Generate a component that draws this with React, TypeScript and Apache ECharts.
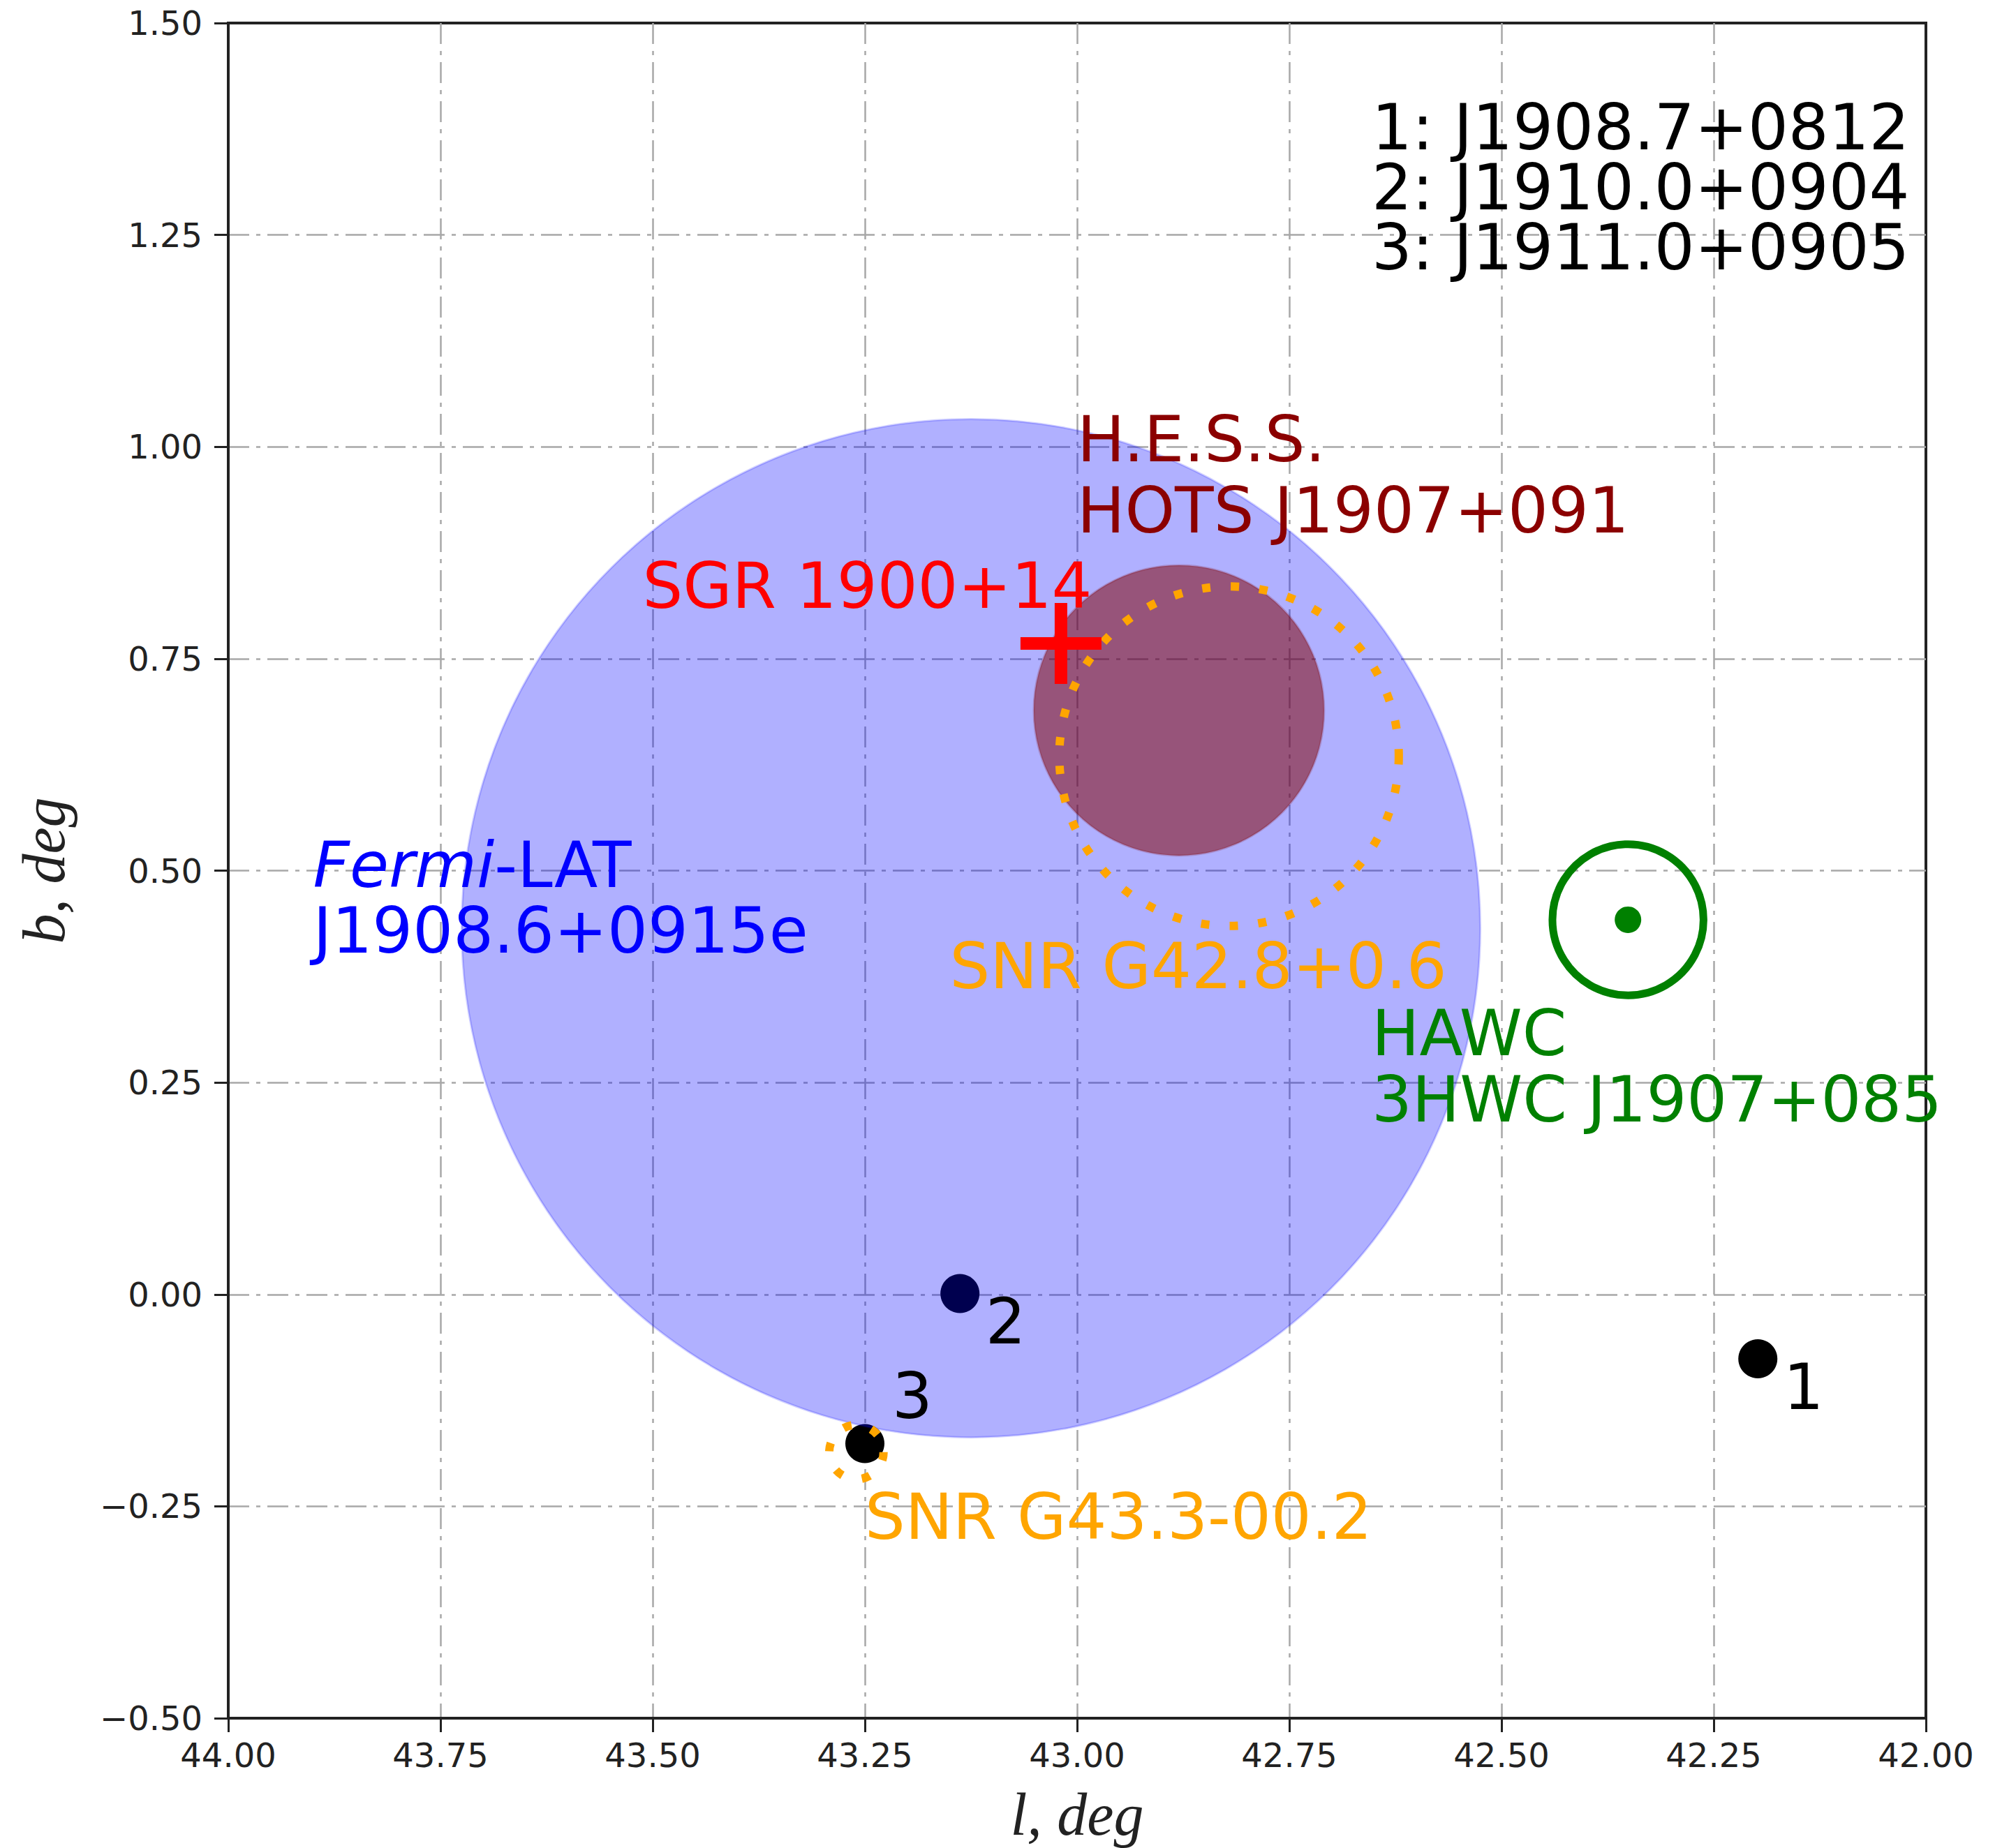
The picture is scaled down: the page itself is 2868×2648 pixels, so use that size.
import React, { useEffect, useRef } from "react";
import * as echarts from "echarts";

const W = 2868;
const H = 2648;

// ---- data (galactic coordinates, degrees) ----
const xMin = 42.0;
const xMax = 44.0;
const yMin = -0.5;
const yMax = 1.5;
const tickStep = 0.25;

// numbered sources 1, 2, 3
const sourceL = [42.198, 43.138, 43.25];
const sourceB = [-0.076, 0.001, -0.176];

// extended regions: [l, b, radius]
const fermiRegion = [[43.125, 0.432, 0.6]];
const hessRegion = [[42.88, 0.689, 0.171]];
const snrRegions = [
  [42.821, 0.635, 0.2],
  [43.26, -0.186, 0.032],
];
const hawcRegion = [[42.351, 0.442, 0.089]];
const hawcCenter = [[42.351, 0.442]];
const sgrPosition = [[43.019, 0.768]];

// source list (top right), one block of three lines
const sourceList = ["1: J1908.7+0812", "2: J1910.0+0904", "3: J1911.0+0905"];

// annotation texts and their anchor positions (left edge, baseline of the middle line) in l, b
const labelTexts = [
  "H.E.S.S.",
  "HOTS J1907+091",
  "SGR 1900+14",
  "{i|Fermi}{n|-LAT}",
  "J1908.6+0915e",
  "SNR G42.8+0.6",
  "HAWC",
  "3HWC J1907+085",
  "1",
  "2",
  "3",
  "SNR G43.3-00.2",
  sourceList.join("\n"),
];
const labelL = [43.0, 43.0, 43.512, 43.9, 43.9, 43.15, 42.653, 42.653, 42.168, 43.108, 43.218, 43.25, 42.653];
const labelB = [0.983, 0.899, 0.81, 0.481, 0.403, 0.3615, 0.2826, 0.2037, -0.135, -0.058, -0.146, -0.288, 1.28];
const labelColors = [
  "#8b0000", "#8b0000", "#ff0000", "#0000ff", "#0000ff", "#ffa500", "#008000", "#008000",
  "#000000", "#000000", "#000000", "#ffa500", "#000000",
];

const FS = 91;
const LH = 86;
const SANS = "'DejaVu Sans', 'Noto Sans', sans-serif";
const SERIF = "'Liberation Serif', 'DejaVu Serif', serif";

function circleRenderer(style: any) {
  return (params: any, api: any) => {
    const c = api.coord([api.value(0), api.value(1)]);
    const e = api.coord([api.value(0) + api.value(2), api.value(1)]);
    const r = Math.abs(e[0] - c[0]);
    return {
      type: "circle",
      shape: { cx: c[0], cy: c[1], r },
      style: { ...style },
      silent: true,
    };
  };
}

function fmt(v: number) {
  return v.toFixed(2).replace("-", "\u2212");
}

export default function App() {
  const ref = useRef<HTMLDivElement>(null);

  useEffect(() => {
    document.body.style.margin = "0";
    if (!ref.current) return;
    const chart = echarts.init(ref.current, undefined, { renderer: "svg", width: W, height: H });

    const axisCommon = {
      type: "value",
      interval: tickStep,
      axisTick: { show: true, inside: false, length: 20, lineStyle: { color: "#222", width: 3 } },
      axisLine: { show: true, onZero: false, lineStyle: { color: "#222", width: 4 } },
      splitLine: {
        show: true,
        showMinLine: false,
        showMaxLine: false,
        lineStyle: { color: "#a8a8a8", width: 2.5, type: [30, 10, 6, 10] },
      },
      nameLocation: "middle",
      nameTextStyle: { fontFamily: SERIF, fontStyle: "italic", fontSize: 86, color: "#222" },
    };

    const option: any = {
      animation: false,
      backgroundColor: "#ffffff",
      grid: {
        left: 327,
        top: 33,
        width: 2432,
        height: 2432,
        show: true,
        borderColor: "#222",
        borderWidth: 4,
        backgroundColor: "transparent",
      },
      xAxis: {
        ...axisCommon,
        min: xMin,
        max: xMax,
        inverse: true,
        name: "l, deg",
        nameGap: 95,
        axisLabel: { formatter: fmt, fontSize: 48, fontFamily: SANS, color: "#222", margin: 29 },
      },
      yAxis: {
        ...axisCommon,
        min: yMin,
        max: yMax,
        name: "b, deg",
        nameGap: 221,
        nameRotate: 90,
        axisLabel: { formatter: fmt, fontSize: 48, fontFamily: SANS, color: "#222", margin: 37 },
      },
      series: [
        {
          type: "scatter",
          z: 1,
          silent: true,
          symbol: "circle",
          symbolSize: 56,
          itemStyle: { color: "#000000", opacity: 1 },
          data: sourceL.map((l, i) => [l, sourceB[i]]),
        },
        {
          type: "custom",
          z: 2,
          silent: true,
          coordinateSystem: "cartesian2d",
          renderItem: circleRenderer({ fill: "rgba(0,0,255,0.31)", stroke: "rgba(0,0,255,0.18)", lineWidth: 3 }),
          data: fermiRegion,
        },
        {
          type: "custom",
          z: 3,
          silent: true,
          coordinateSystem: "cartesian2d",
          renderItem: circleRenderer({ fill: "rgba(128,0,0,0.52)", stroke: "rgba(128,0,0,0.2)", lineWidth: 3 }),
          data: hessRegion,
        },
        {
          type: "custom",
          z: 4,
          silent: true,
          coordinateSystem: "cartesian2d",
          renderItem: circleRenderer({
            fill: "none",
            stroke: "#ffa500",
            lineWidth: 12,
            lineDash: [12, 29],
            lineCap: "butt",
          }),
          data: snrRegions,
        },
        {
          type: "custom",
          z: 4,
          silent: true,
          coordinateSystem: "cartesian2d",
          renderItem: circleRenderer({ fill: "none", stroke: "#008000", lineWidth: 11 }),
          data: hawcRegion,
        },
        {
          type: "scatter",
          z: 5,
          silent: true,
          symbol: "circle",
          symbolSize: 38,
          itemStyle: { color: "#008000", opacity: 1 },
          data: hawcCenter,
        },
        {
          type: "scatter",
          z: 5,
          silent: true,
          symbol: "path://M49,0h18v49h49v18h-49v49h-18v-49h-49v-18h49z",
          symbolSize: 116,
          itemStyle: { color: "#ff0000", opacity: 1 },
          data: sgrPosition,
        },
        {
          type: "custom",
          z: 6,
          silent: true,
          coordinateSystem: "cartesian2d",
          renderItem: (params: any, api: any) => {
            const idx = api.value(2);
            const p = api.coord([api.value(0), api.value(1)]);
            const color = labelColors[idx];
            return {
              type: "text",
              x: p[0],
              y: p[1] - 0.346 * FS,
              silent: true,
              style: {
                text: labelTexts[idx],
                fill: color,
                font: `${FS}px ${SANS}`,
                fontSize: FS,
                fontFamily: SANS,
                lineHeight: LH,
                textAlign: "left",
                textVerticalAlign: "middle",
                align: "left",
                verticalAlign: "middle",
                rich: {
                  i: { fontStyle: "italic", fontSize: FS, fontFamily: SANS, fill: color, color, lineHeight: LH },
                  n: { fontSize: FS, fontFamily: SANS, fill: color, color, lineHeight: LH },
                },
              },
            };
          },
          data: labelL.map((l, i) => [l, labelB[i], i]),
        },
      ],
    };

    chart.setOption(option);
    return () => {
      chart.dispose();
    };
  }, []);

  return <div ref={ref} style={{ width: W, height: H }} />;
}
